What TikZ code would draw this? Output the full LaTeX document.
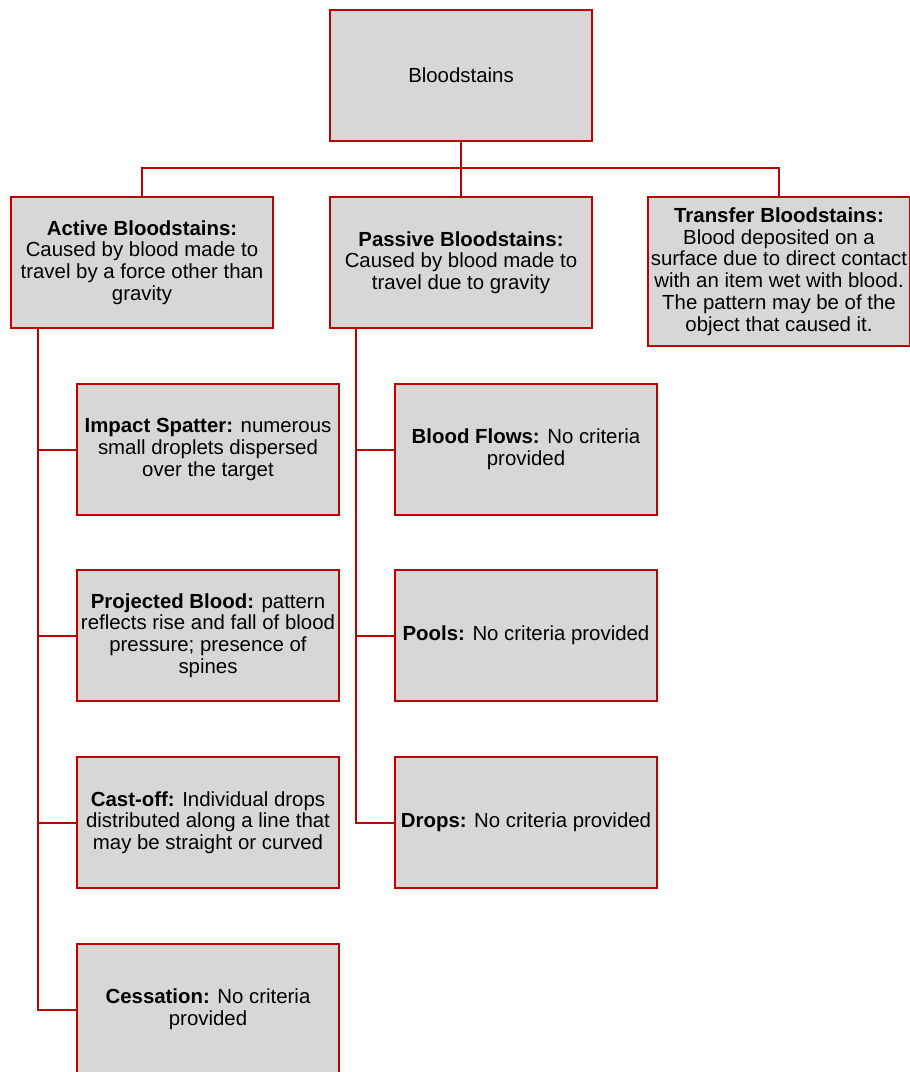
\documentclass[tikz,border=0pt]{standalone}
\usepackage{fontspec}
\setmainfont{Liberation Sans}
\usepackage{xcolor}
\definecolor{stainred}{RGB}{192,0,0}
\definecolor{stainfill}{RGB}{215,215,215}
\tikzset{
  stainbox/.style={draw=stainred, fill=stainfill, line width=1.5pt,
    minimum width=196.5pt, minimum height=98.25pt, inner sep=2pt,
    align=center, font=\fontsize{15.3}{16.3}\selectfont},
  link/.style={draw=stainred, line width=1.5pt}
}
\begin{document}
\begin{tikzpicture}[x=0.75pt, y=-0.75pt]
        \useasboundingbox (0,0) rectangle (910,1072);

        % Top box
        \node[stainbox] (root) at (461,75.5) {Bloodstains};

        % Second row
        \node[stainbox] (active) at (142,262.5) {\textbf{Active Bloodstains:}\\Caused by blood made to\\travel by a force other than\\gravity};
        \node[stainbox] (passive) at (461,262.5) {\textbf{Passive Bloodstains:}\\Caused by blood made to\\travel due to gravity};
        \node[stainbox, minimum height=111.75pt] (transfer) at (779,271.5) {\textbf{Transfer Bloodstains:}\\Blood deposited on a\\surface due to direct contact\\with an item wet with blood.\\The pattern may be of the\\object that caused it.};

        % Active bloodstain types
        \node[stainbox] (impact) at (208,449.5) {\textbf{Impact Spatter:} numerous\\small droplets dispersed\\over the target};
        \node[stainbox] (projected) at (208,635.5) {\textbf{Projected Blood:} pattern\\reflects rise and fall of blood\\pressure; presence of\\spines};
        \node[stainbox] (castoff) at (208,822.5) {\textbf{Cast-off:} Individual drops\\distributed along a line that\\may be straight or curved};
        \node[stainbox] (cessation) at (208,1009.5) {\textbf{Cessation:} No criteria\\provided};

        % Passive bloodstain types
        \node[stainbox] (flows) at (526,449.5) {\textbf{Blood Flows:} No criteria\\provided};
        \node[stainbox] (pools) at (526,635.5) {\textbf{Pools:} No criteria provided};
        \node[stainbox] (drops) at (526,822.5) {\textbf{Drops:} No criteria provided};

        % Bus under the top box
        \coordinate (busL) at (142,168);
        \coordinate (busR) at (779,168);
        \draw[link] (root.south) -- (passive.north);
        \draw[link] (active.north) -- (busL) -- (busR) -- (transfer.north);

        % Trunks
        \coordinate (atrunk) at (38,328);
        \coordinate (ptrunk) at (356,328);
        \draw[link] (atrunk) |- (impact.west);
        \draw[link] (atrunk) |- (projected.west);
        \draw[link] (atrunk) |- (castoff.west);
        \draw[link] (atrunk) |- (cessation.west);
        \draw[link] (ptrunk) |- (flows.west);
        \draw[link] (ptrunk) |- (pools.west);
        \draw[link] (ptrunk) |- (drops.west);
\end{tikzpicture}
\end{document}
